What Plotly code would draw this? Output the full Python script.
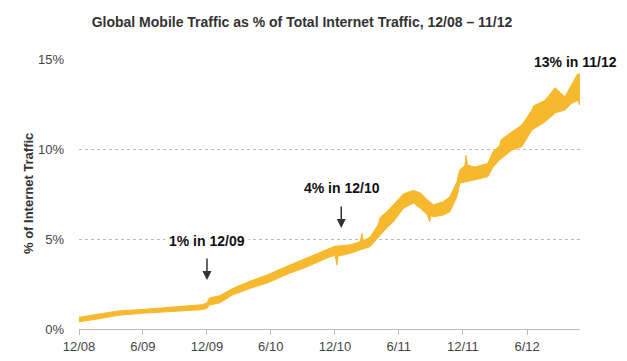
import plotly.graph_objects as go

# Upper and lower edges of the (noisy daily) traffic band (% of traffic)
upper_dates = ["2008-12-01","2009-01-30","2009-03-22","2009-05-28","2009-07-18","2009-08-30",
               "2009-10-27","2009-11-18","2009-12-01","2009-12-08","2010-01-06","2010-02-12",
               "2010-04-02","2010-05-21","2010-07-25","2010-09-06","2010-10-11","2010-11-09",
               "2010-12-01","2011-01-13","2011-02-11","2011-02-16","2011-02-20","2011-03-11",
               "2011-04-04","2011-04-09","2011-04-27","2011-05-17","2011-06-14","2011-07-13",
               "2011-08-02","2011-08-22","2011-09-08","2011-10-06","2011-10-25","2011-11-14",
               "2011-11-22","2011-12-07","2011-12-10","2011-12-14","2012-01-04","2012-02-10",
               "2012-02-25","2012-03-15","2012-03-18","2012-04-19","2012-05-17","2012-06-15",
               "2012-06-20","2012-07-22","2012-08-20","2012-09-17","2012-10-07","2012-10-24",
               "2012-10-29"]
upper_vals = [0.65,0.82,1.0,1.08,1.15,1.22,
              1.28,1.35,1.45,1.72,1.85,2.25,
              2.65,3.0,3.55,3.9,4.2,4.45,
              4.6,4.67,4.85,5.3,4.9,5.1,
              5.8,6.2,6.5,6.9,7.5,7.7,
              7.55,7.17,6.9,7.07,7.35,8.18,
              8.83,9.1,9.65,9.1,9.0,9.2,
              9.85,10.2,10.5,10.96,11.33,12.17,
              12.4,12.7,13.4,12.9,13.65,14.2,
              14.3]

lower_dates = ["2008-12-01","2009-01-30","2009-03-22","2009-05-28","2009-07-18","2009-08-30",
               "2009-10-27","2009-11-18","2009-12-01","2009-12-08","2010-01-06","2010-02-12",
               "2010-04-02","2010-05-21","2010-07-25","2010-09-06","2010-10-11","2010-11-09",
               "2010-12-01","2010-12-07","2010-12-10","2011-01-13","2011-02-11","2011-03-11",
               "2011-04-04","2011-04-27","2011-05-17","2011-06-14","2011-07-13","2011-08-02",
               "2011-08-22","2011-08-28","2011-09-01","2011-09-08","2011-10-06","2011-10-25",
               "2011-11-14","2011-11-22","2011-12-07","2012-01-04","2012-02-10","2012-02-25",
               "2012-03-15","2012-04-19","2012-05-17","2012-06-15","2012-07-22","2012-08-20",
               "2012-09-17","2012-10-07","2012-10-24","2012-10-29"]
lower_vals = [0.40,0.58,0.76,0.87,0.93,1.0,
              1.05,1.08,1.15,1.33,1.45,1.89,
              2.25,2.55,3.1,3.4,3.7,3.95,
              4.1,3.55,4.05,4.2,4.4,4.57,
              5.1,5.6,5.96,6.7,7.0,6.7,
              6.33,5.96,6.3,6.24,6.33,6.52,
              7.35,8.1,8.18,8.28,8.46,9.0,
              9.4,9.94,10.13,11.06,11.5,12.0,
              12.17,12.55,12.7,12.44]

tick_dates = ["2008-12-01","2009-06-01","2009-12-01","2010-06-01","2010-12-01",
              "2011-06-01","2011-12-01","2012-06-01"]
tick_labels = ["12/08","6/09","12/09","6/10","12/10","6/11","12/11","6/12"]
y_ticks = [0, 5, 10, 15]
y_labels = ["0%", "5%", "10%", "15%"]

callouts = ["1% in 12/09", "4% in 12/10", "13% in 11/12"]
callout_dates = ["2009-12-01", "2010-12-21", "2012-10-18"]
callout_y = [4.89, 7.83, 14.83]
arrow_dates = ["2009-12-01", "2010-12-19"]
arrow_heads = [2.72, 5.61]

COLOR = "#F6B92D"
FONT = "Liberation Sans"

fig = go.Figure()
fig.add_trace(go.Scatter(
    x=upper_dates + lower_dates[::-1],
    y=upper_vals + lower_vals[::-1],
    fill="toself", fillcolor=COLOR, mode="lines",
    line=dict(color=COLOR, width=1), hoverinfo="skip", showlegend=False))

# page has an 8px body margin, so margins are reduced by 8 on left/top
fig.update_layout(
    width=627, height=361,
    margin=dict(l=71, r=55, t=51, b=40, autoexpand=False),
    paper_bgcolor="white", plot_bgcolor="white",
    font=dict(family=FONT, size=13, color="#444"),
    title=dict(text="<b>Global Mobile Traffic as % of Total Internet Traffic, 12/08 – 11/12</b>",
               x=294/627, xanchor="center", y=1-14/361, yanchor="middle", yref="container",
               font=dict(family=FONT, size=14, color="#333")),
    showlegend=False,
)
fig.update_xaxes(
    type="date", range=["2008-12-01", "2012-10-30"],
    tickvals=tick_dates, ticktext=tick_labels, automargin=False,
    showgrid=False, showline=True, linecolor="#bbb", linewidth=1,
    ticks="outside", ticklen=5, tickcolor="#bbb",
    tickfont=dict(size=13, color="#444"), zeroline=False,
)
fig.update_yaxes(
    range=[0, 15], tickvals=y_ticks, ticktext=y_labels, automargin=False,
    showgrid=True, gridcolor="#bbb", griddash="dot", gridwidth=1,
    zeroline=False, showline=False, ticks="", ticklabelstandoff=14,
    tickfont=dict(size=13, color="#444"),
)
# Y-axis title
fig.add_annotation(x=0, y=0.5, xref="paper", yref="paper", xshift=-51, xanchor="center",
                   yanchor="middle", text="<b>% of Internet Traffic</b>", textangle=-90,
                   showarrow=False, font=dict(family=FONT, size=13, color="#333"))

# Callout text
for t, d, yv in zip(callouts, callout_dates, callout_y):
    fig.add_annotation(x=d, y=yv, xref="x", yref="y", text="<b>%s</b>" % t,
                       showarrow=False, bgcolor="white", borderpad=3,
                       font=dict(family=FONT, size=14, color="#111"))
# Arrows
for d, yv in zip(arrow_dates, arrow_heads):
    fig.add_annotation(x=d, y=yv, xref="x", yref="y", text="", showarrow=True,
                       ax=0, ay=-23, arrowhead=2, arrowsize=1.2, arrowwidth=1.5,
                       arrowcolor="#333")

fig.write_html("out.html")
